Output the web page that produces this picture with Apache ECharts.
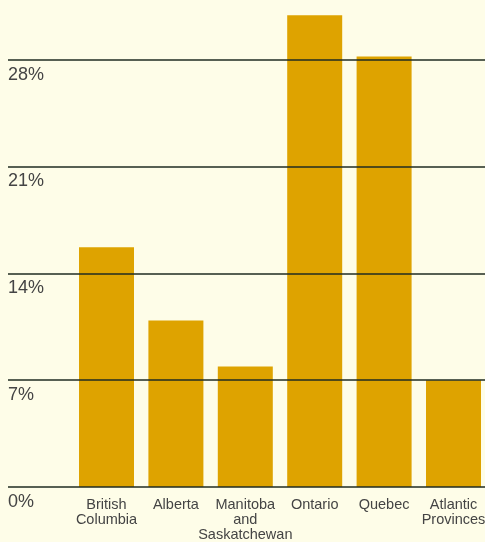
<!DOCTYPE html>
<html><head><meta charset="utf-8">
<script src="https://cdn.jsdelivr.net/npm/echarts@6/dist/echarts.min.js"></script>
<style>html,body{margin:0;padding:0;background:#fefde8;}#c{width:485px;height:542px;}</style>
</head><body><div id="c"></div>
<script>
var categories = ['British\nColumbia', 'Alberta', 'Manitoba\nand\nSaskatchewan', 'Ontario', 'Quebec', 'Atlantic\nProvinces'];
var shares = [15.7, 10.9, 7.9, 30.9, 28.2, 7.0];
var yTicks = [0, 7, 14, 21, 28];
var chart = echarts.init(document.getElementById('c'));
var yMax = 31.9;
var font = 'Liberation Sans, Arial, sans-serif';
chart.setOption({
  backgroundColor: '#fefde8',
  animation: false,
  grid: [
    {left: 8, right: 0, top: 0, bottom: 55, outerBoundsMode: 'none', containLabel: false},
    {left: 106.5, right: 31.5, top: 0, bottom: 55, outerBoundsMode: 'none', containLabel: false}
  ],
  xAxis: [
    {gridIndex: 0, type: 'value', min: 0, max: 1, show: false},
    {gridIndex: 1, type: 'category', data: categories, boundaryGap: false,
     axisLine: {show: false}, axisTick: {show: false}, splitLine: {show: false},
     axisLabel: {margin: 10, fontFamily: font, fontSize: 14.5, color: '#444', lineHeight: 15, interval: 0, hideOverlap: false}}
  ],
  yAxis: [
    {gridIndex: 0, type: 'value', min: 0, max: yMax, interval: 7, z: 5,
     axisLine: {show: false}, axisTick: {show: false},
     splitLine: {show: true, showMaxLine: false, lineStyle: {color: '#1f2b22', width: 1.5}},
     axisLabel: {inside: true, margin: 0, verticalAlign: 'top', padding: [6, 0, 0, 0],
       fontFamily: font, fontSize: 18, color: '#444',
       formatter: function (v) { return yTicks.indexOf(v) >= 0 ? v + '%' : ''; }}},
    {gridIndex: 1, type: 'value', min: 0, max: yMax, show: false}
  ],
  series: [{
    type: 'bar', xAxisIndex: 1, yAxisIndex: 1, data: shares, barWidth: 55,
    itemStyle: {color: '#dea300'}, z: 1
  }]
});
</script></body></html>
